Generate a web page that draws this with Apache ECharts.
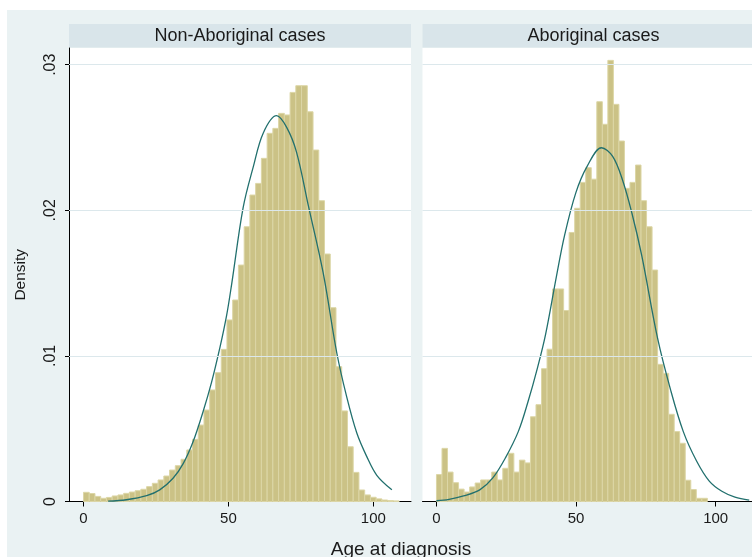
<!DOCTYPE html>
<html><head><meta charset="utf-8">
<script src="https://cdn.jsdelivr.net/npm/echarts@6/dist/echarts.min.js"></script>
<style>html,body{margin:0;padding:0;background:#fff}#chart{width:752px;height:557px}</style>
</head><body><div id="chart"></div>
<script>
// ---- data ----
const PANEL_TITLES = ['Non-Aboriginal cases', 'Aboriginal cases'];
const X_TITLE = 'Age at diagnosis';
const Y_TITLE = 'Density';
const X_TICKS = [0, 50, 100];
const X_TICK_LABELS = ['0', '50', '100'];
const Y_TICKS = [0, 0.01, 0.02, 0.03];
const Y_TICK_LABELS = ['0', '.01', '.02', '.03'];
const BIN_WIDTH = 1.98; // histogram bins start at 0

const NON_ABORIGINAL_DENSITY = [
  0.00063, 0.00055, 0.00035, 0.00022, 0.00028, 0.00038, 0.00045, 0.00056, 0.00065, 0.00074,
  0.00084, 0.00102, 0.00125, 0.00148, 0.00175, 0.00216, 0.00246, 0.0029, 0.00354, 0.00427,
  0.00525, 0.00628, 0.00766, 0.00885, 0.01045, 0.01247, 0.01384, 0.01624, 0.01887, 0.02105,
  0.02185, 0.02357, 0.02529, 0.02563, 0.02666, 0.02655, 0.0281, 0.02856, 0.02856, 0.02677,
  0.02414, 0.02066, 0.017, 0.01331, 0.00926, 0.00622, 0.00376, 0.002, 0.00079, 0.00045,
  0.00029, 0.00018, 0.0001, 0.00006, 0.00004
];
const ABORIGINAL_DENSITY = [
  0.00185, 0.00365, 0.00202, 0.00129, 0.00085, 0.00065, 0.001, 0.00127, 0.00148, 0.00148,
  0.00202, 0.00148, 0.00228, 0.00331, 0.00202, 0.00284, 0.00265, 0.00582, 0.00665, 0.00912,
  0.01046, 0.0146, 0.0146, 0.01312, 0.01848, 0.02014, 0.02192, 0.02293, 0.02214, 0.02746,
  0.02591, 0.0303, 0.02728, 0.02476, 0.02151, 0.02192, 0.02311, 0.02066, 0.01887, 0.0159,
  0.00942, 0.0088, 0.00599, 0.0048, 0.004, 0.00146, 0.00082, 0.00022, 0.00022
];

const NON_ABORIGINAL_NORMAL_X = [8.5, 14.8, 21.8, 26.3, 30.9, 34.4, 37.8, 41.3, 44.2, 47.1, 49.4, 51.1, 55.1, 58.6, 62.0, 66.6, 70.1, 73.5, 77.6, 82.7, 87.4, 90.8, 94.3, 97.7, 101.2, 106.4];
const NON_ABORIGINAL_NORMAL_Y = [0.00002, 0.00012, 0.0004, 0.0008, 0.0016, 0.0026, 0.0041, 0.0062, 0.0082, 0.0106, 0.0128, 0.0149, 0.0202, 0.0230, 0.0253, 0.0265, 0.0257, 0.0240, 0.0203, 0.0157, 0.0102, 0.0072, 0.0047, 0.0031, 0.0018, 0.0008];

const ABORIGINAL_NORMAL_X = [0, 4.5, 9.7, 15.5, 20.1, 24.7, 29.3, 32.7, 36.2, 39.1, 43.0, 45.9, 49.9, 53.9, 59.1, 63.1, 66.6, 70.0, 73.5, 79.2, 83.8, 88.4, 93.1, 97.7, 102.2, 106.9, 112];
const ABORIGINAL_NORMAL_Y = [0.00005, 0.00015, 0.00038, 0.0008, 0.0016, 0.003, 0.0048, 0.0068, 0.0092, 0.0115, 0.0155, 0.0183, 0.0212, 0.0230, 0.0243, 0.0237, 0.0221, 0.0198, 0.0169, 0.0112, 0.0077, 0.0048, 0.0028, 0.0014, 0.0007, 0.0003, 0.0001];

// ---- styling ----
const FONT = '"Liberation Sans", Arial, sans-serif';
const BG = '#EAF2F3';
const STRIP = '#D9E5EA';
const GRID_LINE = '#DCE8EC';
const BAR_FILL = '#CBC286';
const BAR_EDGE = '#DCD6A6';
const CURVE = '#22706E';
const TEXT = '#1a1a1a';

const X_MIN = -5, X_MAX = 113, Y_MIN = 0, Y_MAX = 0.03115;
const GRIDS = [
  {left: 69, top: 48, width: 342, height: 453.5},
  {left: 422.5, top: 48, width: 342, height: 453.5}
];

function binData(arr) {
  return arr.map((h, k) => [k * BIN_WIDTH, (k + 1) * BIN_WIDTH, h]);
}
function zip(xs, ys) { return xs.map((x, i) => [x, ys[i]]); }

function renderBar(params, api) {
  const p0 = api.coord([api.value(0), api.value(2)]);
  const p1 = api.coord([api.value(1), 0]);
  return {
    type: 'rect',
    shape: {x: p0[0], y: p0[1], width: p1[0] - p0[0], height: p1[1] - p0[1]},
    style: {fill: BAR_FILL, stroke: BAR_EDGE, lineWidth: 1}
  };
}

function xAxis(i) {
  return {
    type: 'value', gridIndex: i, min: X_MIN, max: X_MAX,
    axisLine: {show: true, onZero: false, lineStyle: {color: '#000', width: 1}},
    axisTick: {show: true, length: 5, customValues: X_TICKS, lineStyle: {color: '#000'}},
    axisLabel: {
      show: true, customValues: X_TICKS, margin: 10,
      formatter: v => X_TICK_LABELS[X_TICKS.indexOf(v)] ?? '',
      color: TEXT, fontSize: 15, fontFamily: FONT
    },
    splitLine: {show: false}
  };
}

const option = {
  animation: false,
  backgroundColor: BG,
  grid: GRIDS.map(g => Object.assign({show: true, backgroundColor: '#ffffff', borderWidth: 0, containLabel: false}, g)),
  xAxis: [xAxis(0), xAxis(1)],
  yAxis: [
    {
      type: 'value', gridIndex: 0, min: Y_MIN, max: Y_MAX,
      name: Y_TITLE, nameLocation: 'middle', nameRotate: 90, nameGap: 40,
      nameTextStyle: {color: TEXT, fontSize: 15.5, fontFamily: FONT},
      axisLine: {show: true, onZero: false, lineStyle: {color: '#000', width: 1}},
      axisTick: {show: true, length: 4, customValues: Y_TICKS, lineStyle: {color: '#000'}},
      axisLabel: {
        show: true, customValues: Y_TICKS, rotate: 90, margin: 10,
        formatter: v => {
          const i = Y_TICKS.findIndex(t => Math.abs(t - v) < 1e-9);
          return i >= 0 ? Y_TICK_LABELS[i] : '';
        },
        color: TEXT, fontSize: 16, fontFamily: FONT
      },
      splitLine: {show: false}
    },
    {type: 'value', gridIndex: 1, min: Y_MIN, max: Y_MAX, show: false, splitLine: {show: false}}
  ],
  series: [0, 1].flatMap(i => [
    {
      type: 'line', xAxisIndex: i, yAxisIndex: i, data: [], z: 1, silent: true,
      markLine: {
        silent: true, symbol: ['none', 'none'], label: {show: false},
        lineStyle: {color: GRID_LINE, width: 1, type: 'solid'},
        emphasis: {disabled: true},
        data: Y_TICKS.filter(v => v > 0).map(v => ({yAxis: v}))
      }
    },
    {
      type: 'custom', xAxisIndex: i, yAxisIndex: i, z: 2, silent: true,
      renderItem: renderBar,
      encode: {x: [0, 1], y: 2},
      data: binData(i === 0 ? NON_ABORIGINAL_DENSITY : ABORIGINAL_DENSITY)
    },
    {
      type: 'line', xAxisIndex: i, yAxisIndex: i, z: 3, silent: true,
      showSymbol: false, smooth: 0.35,
      lineStyle: {color: CURVE, width: 1.3},
      data: i === 0 ? zip(NON_ABORIGINAL_NORMAL_X, NON_ABORIGINAL_NORMAL_Y) : zip(ABORIGINAL_NORMAL_X, ABORIGINAL_NORMAL_Y)
    }
  ]),
  graphic: [
    {type: 'rect', silent: true, shape: {x: 0, y: 0, width: 752, height: 10}, style: {fill: '#ffffff'}},
    {type: 'rect', silent: true, shape: {x: 0, y: 0, width: 7, height: 557}, style: {fill: '#ffffff'}},
    ...GRIDS.map((g, i) => ({
      type: 'group', silent: true,
      children: [
        {type: 'rect', shape: {x: g.left, y: 24, width: g.width, height: 23.5}, style: {fill: STRIP}},
        {type: 'text', x: g.left + g.width / 2, y: 36,
         style: {text: PANEL_TITLES[i], align: 'center', verticalAlign: 'middle', fill: TEXT, fontSize: 18, fontFamily: FONT}}
      ]
    })),
    {type: 'text', silent: true, x: 401, y: 550,
     style: {text: X_TITLE, align: 'center', verticalAlign: 'middle', fill: TEXT, fontSize: 19, fontFamily: FONT}}
  ]
};

const chart = echarts.init(document.getElementById('chart'), null, {renderer: 'canvas'});
chart.setOption(option);
</script>
</body></html>
